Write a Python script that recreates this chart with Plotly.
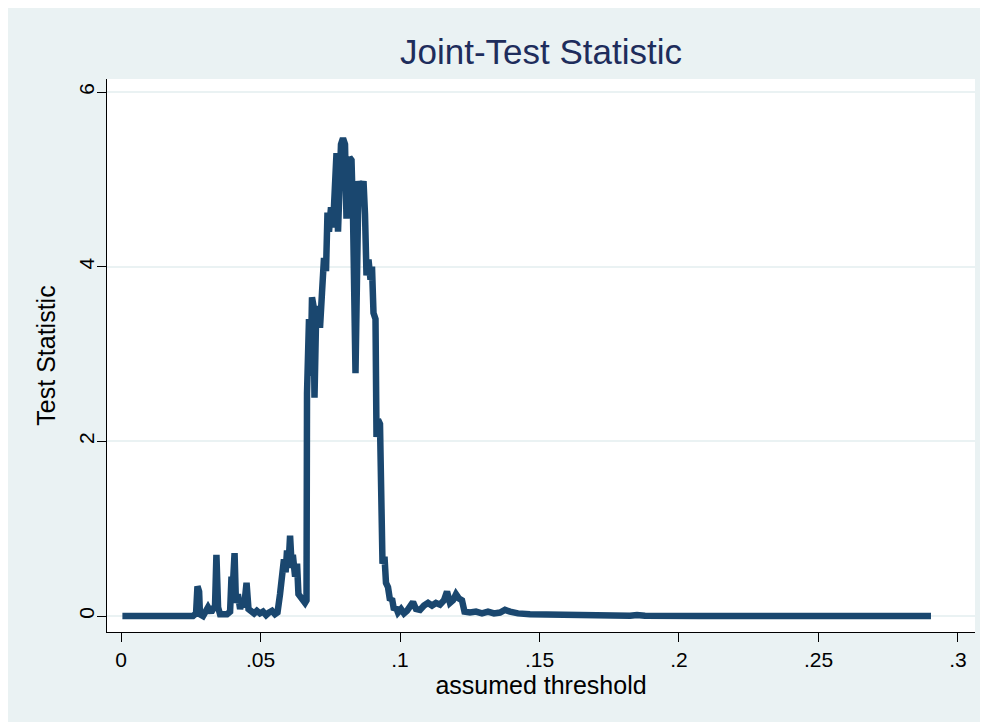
import plotly.graph_objects as go

# assumed threshold (x) and joint-test statistic (y)
threshold = [
    0.0005, 0.0258, 0.0269, 0.0274, 0.0280, 0.0283, 0.0294, 0.0305, 0.0312, 0.0323,
    0.0332, 0.0337, 0.0342, 0.0348, 0.0355, 0.0380, 0.0391, 0.0396, 0.0401, 0.0407,
    0.0412, 0.0419, 0.0427, 0.0434, 0.0441, 0.0450, 0.0457, 0.0466, 0.0477, 0.0487,
    0.0498, 0.0509, 0.0520, 0.0530, 0.0541, 0.0552, 0.0561, 0.0570, 0.0577, 0.0584,
    0.0590, 0.0595, 0.0600, 0.0606, 0.0611, 0.0616, 0.0624, 0.0631, 0.0636, 0.0645,
    0.0652, 0.06595, 0.06649, 0.06667, 0.06738, 0.06792, 0.06846, 0.06900, 0.06935, 0.06989,
    0.07061, 0.07133, 0.07204, 0.07276, 0.07348, 0.07401, 0.07455, 0.07527, 0.07599, 0.07670,
    0.07724, 0.07778, 0.07832, 0.07885, 0.07957, 0.08029, 0.08082, 0.08136, 0.08190, 0.08262,
    0.08315, 0.08405, 0.08459, 0.08513, 0.08602, 0.08692, 0.08746, 0.08799, 0.08871, 0.08943,
    0.08996, 0.09050, 0.09122, 0.09158, 0.09211, 0.09283, 0.09319, 0.09373, 0.09444, 0.09498,
    0.09570, 0.09642, 0.09713, 0.09785, 0.09857, 0.09928, 0.10036, 0.10143, 0.10251, 0.10358,
    0.10466, 0.10573, 0.10717, 0.10860, 0.11004, 0.11147, 0.11290, 0.11434, 0.11577, 0.11685,
    0.11792, 0.11900, 0.12007, 0.12115, 0.12222, 0.12312, 0.12509, 0.12724, 0.12939, 0.13154,
    0.13369, 0.13584, 0.13763, 0.13943, 0.14229, 0.14659, 0.15197, 0.15735, 0.16272, 0.17168,
    0.18244, 0.18495, 0.18781, 0.20753, 0.24337, 0.29032,
]
statistic = [
    0.00, 0.00, 0.03, 0.34, 0.28, 0.02, 0.00, 0.06, 0.10, 0.04,
    0.08, 0.12, 0.70, 0.10, 0.02, 0.02, 0.05, 0.45, 0.35, 0.72,
    0.15, 0.25, 0.08, 0.18, 0.10, 0.38, 0.08, 0.05, 0.03, 0.06,
    0.03, 0.05, 0.01, 0.04, 0.06, 0.02, 0.04, 0.25, 0.48, 0.65,
    0.50, 0.75, 0.55, 0.92, 0.62, 0.70, 0.45, 0.60, 0.25, 0.22,
    0.18, 0.15, 0.18, 2.55, 3.40, 2.75, 3.65, 3.55, 2.50, 3.35,
    3.55, 3.30, 3.70, 4.10, 3.95, 4.62, 4.40, 4.68, 4.45, 4.95,
    5.30, 4.40, 5.25, 5.40, 5.47, 5.40, 4.55, 5.00, 5.25, 5.22,
    4.60, 2.78, 3.50, 4.98, 4.85, 4.98, 4.60, 3.90, 4.08, 3.85,
    4.00, 3.47, 3.40, 2.05, 2.25, 2.20, 1.20, 0.60, 0.68, 0.38,
    0.33, 0.18, 0.20, 0.07, 0.10, 0.04, 0.08, 0.03, 0.06, 0.10,
    0.16, 0.08, 0.07, 0.12, 0.15, 0.12, 0.15, 0.13, 0.18, 0.28,
    0.15, 0.18, 0.25, 0.20, 0.18, 0.05, 0.04, 0.05, 0.03, 0.05,
    0.03, 0.04, 0.07, 0.05, 0.03, 0.02, 0.015, 0.008, 0.004, 0.002,
    0.003, 0.012, 0.003, 0.001, 0.000, 0.000,
]

x_tick_vals = [0, 0.05, 0.1, 0.15, 0.2, 0.25, 0.3]
x_tick_text = ["0", ".05", ".1", ".15", ".2", ".25", ".3"]
y_tick_vals = [0, 2, 4, 6]
y_tick_text = ["0", "2", "4", "6"]

BG = "#eaf2f3"
LINE = "#1a476f"
FONT = "Liberation Sans, Arial, sans-serif"

fig = go.Figure()
fig.add_trace(go.Scatter(
    x=threshold, y=statistic, mode="lines",
    line=dict(color=LINE, width=6.5),
    showlegend=False, hoverinfo="skip",
))

# page body adds an 8px offset; figure fills the rest of the 988x727 window
W, H = 980, 719
L, R, T, B = 99, 13, 71, 95
pw, ph = W - L - R, H - T - B

def px_x(px):
    return (px - L) / pw

def px_y(py):
    return (H - B - py) / ph

shapes = [
    dict(type="rect", xref="paper", yref="paper", layer="above",
         x0=px_x(-5), x1=px_x(W + 5), y0=px_y(H + 5), y1=px_y(714),
         fillcolor="white", line=dict(width=0)),
]

fig.update_layout(
    width=W, height=H,
    margin=dict(l=L, r=R, t=T, b=B, pad=0),
    paper_bgcolor=BG, plot_bgcolor="white",
    font=dict(family=FONT, color="black", size=21),
    title=dict(text="Joint-Test Statistic", x=(L + pw / 2) / W, xanchor="center",
               y=1 - 44 / H, yanchor="middle", yref="container",
               font=dict(family=FONT, size=35, color="#1e2d5c")),
    shapes=shapes,
    xaxis=dict(
        range=[-0.00502, 0.3061], tickmode="array",
        tickvals=x_tick_vals, ticktext=x_tick_text,
        ticks="outside", ticklen=9, tickwidth=1, tickcolor="black",
        showline=True, linecolor="black", linewidth=1,
        showgrid=False, zeroline=False,
        tickfont=dict(size=21),
        title=dict(text="assumed threshold", font=dict(size=25), standoff=5),
    ),
    yaxis=dict(
        range=[-0.183, 6.149], tickmode="array",
        tickvals=y_tick_vals, ticktext=y_tick_text, tickangle=-90,
        ticks="outside", ticklen=9, tickwidth=1, tickcolor="black",
        showline=True, linecolor="black", linewidth=1,
        showgrid=True, gridcolor=BG, gridwidth=2, zeroline=False,
        tickfont=dict(size=21), ticklabelstandoff=-5,
        title=dict(text="Test Statistic", font=dict(size=25), standoff=11),
    ),
)

fig.write_html("out.html")
